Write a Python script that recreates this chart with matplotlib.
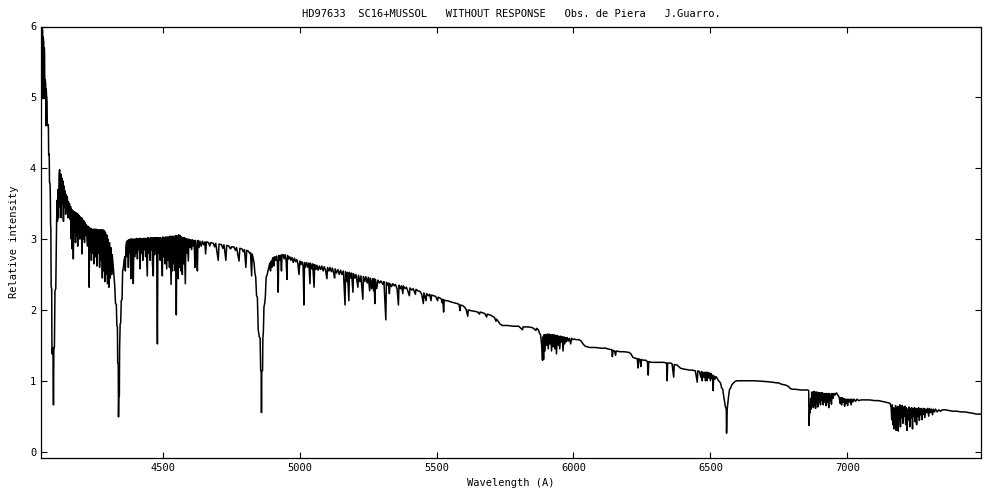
import numpy as np
import matplotlib
matplotlib.use('Agg')
import matplotlib.pyplot as plt

# (wavelength in A, relative intensity), blue to red
seg_blue = [(4057, 5.98), (4058, 6.0), (4059, 4.98), (4060, 5.97), (4062, 5.95), (4063, 5.0), (4064, 5.85),
            (4066, 5.78), (4067, 4.98), (4068, 5.7), (4069, 5.62), (4070, 5.05), (4071, 5.25), (4073, 5.2),
            (4074, 4.6), (4075, 5.12), (4077, 4.98), (4078, 4.95), (4079, 4.6), (4081, 4.62), (4083, 4.6),
            (4084, 4.18), (4086, 4.2), (4087, 3.8), (4089, 3.78), (4090, 3.62), (4091, 3.2), (4092, 3.15),
            (4093, 2.33), (4095, 2.3), (4096, 1.38), (4099, 1.47), (4100, 1.3), (4101.5, 0.66), (4103, 1.45),
            (4105, 1.48), (4107, 2.27), (4110, 2.3), (4112, 2.86), (4113, 3.25), (4115, 3.55), (4116, 3.25),
            (4118, 3.7), (4120, 3.3), (4122, 3.9)]

seg_4124 = [(4124, 3.98), (4126, 3.45), (4128, 3.92), (4130, 3.3), (4132, 3.86), (4134, 3.5), (4136, 3.82),
            (4138, 3.25), (4140, 3.75), (4142, 3.45), (4144, 3.68), (4146, 3.35), (4148, 3.63), (4150, 3.5),
            (4152, 3.6), (4154, 3.3), (4156, 3.53), (4158, 3.4), (4160, 3.5), (4162, 3.28), (4164, 3.46),
            (4166, 3.0), (4168, 3.42), (4170, 2.86), (4172, 3.4), (4174, 2.72), (4176, 3.39), (4178, 3.1),
            (4180, 3.38), (4182, 2.95), (4184, 3.37), (4186, 3.05), (4188, 3.36), (4190, 2.9), (4192, 3.35),
            (4194, 3.1), (4196, 3.33), (4198, 3.0), (4200, 3.31), (4202, 3.1), (4204, 3.3), (4205, 2.79),
            (4207, 3.28), (4210, 3.0), (4212, 3.26), (4215, 2.95), (4217, 3.23), (4220, 3.05), (4222, 3.2),
            (4225, 2.9), (4228, 3.18), (4230, 3.0), (4231, 3.17), (4232, 2.32), (4233, 3.16), (4236, 2.85),
            (4238, 3.15), (4240, 2.7), (4242, 3.14), (4245, 2.8), (4247, 3.14), (4250, 2.65), (4252, 3.14),
            (4255, 2.75), (4257, 3.14), (4260, 2.62), (4262, 3.13), (4265, 2.8), (4267, 3.13), (4270, 2.6),
            (4272, 3.13), (4275, 2.7), (4277, 3.13), (4280, 2.45), (4282, 3.13), (4285, 2.55), (4287, 3.12),
            (4289, 2.4), (4291, 3.1), (4294, 2.5), (4296, 3.06), (4299, 2.37), (4301, 3.0), (4304, 2.32),
            (4306, 2.95), (4309, 2.45), (4311, 2.88), (4314, 2.5), (4316, 2.78), (4319, 2.65), (4322, 2.5)]

seg_hgamma = [(4325, 2.35), (4328, 2.09), (4331, 2.08), (4333, 1.78), (4335, 1.76), (4336, 1.25), (4338, 1.24),
              (4339, 0.49), (4340, 0.77), (4342, 0.78), (4343, 1.45), (4345, 1.8), (4347, 1.82), (4349, 2.13),
              (4352, 2.15), (4354, 2.55), (4357, 2.6), (4359, 2.69), (4362, 2.75), (4364, 2.55), (4366, 2.9)]

seg_4369 = [(4369, 2.97), (4371, 2.75), (4373, 2.98), (4375, 2.6), (4377, 2.99), (4380, 2.8), (4382, 3.0),
            (4384, 2.44), (4386, 3.0), (4388, 2.7), (4390, 3.0), (4393, 2.37), (4395, 3.0), (4398, 2.75),
            (4400, 3.0), (4403, 2.8), (4405, 3.01), (4408, 2.72), (4410, 3.0), (4413, 2.85), (4415, 3.01),
            (4418, 2.58), (4420, 3.01), (4423, 2.8), (4425, 3.0), (4428, 2.7), (4430, 3.01), (4433, 2.85),
            (4435, 3.01), (4438, 2.75), (4440, 3.01), (4444, 2.48), (4446, 3.02), (4449, 2.8), (4451, 3.01),
            (4454, 2.7), (4456, 3.02), (4459, 2.85), (4461, 3.02), (4463, 2.65), (4466, 2.48), (4468, 3.02),
            (4471, 2.78), (4473, 3.02), (4476, 2.85), (4478, 3.02), (4481, 1.52), (4483, 3.02), (4486, 2.8),
            (4488, 3.02), (4491, 2.7), (4493, 3.02), (4496, 2.85), (4499, 2.48), (4501, 3.03), (4504, 2.75),
            (4506, 3.02), (4509, 2.65), (4511, 3.03), (4515, 2.58), (4517, 3.03), (4520, 2.7), (4522, 3.03),
            (4525, 2.6), (4527, 3.04), (4531, 2.36), (4533, 3.04), (4536, 2.55), (4538, 3.04), (4541, 2.65),
            (4543, 3.04), (4546, 2.55), (4548, 3.05), (4550, 1.93), (4552, 3.05), (4555, 2.5), (4557, 2.44),
            (4559, 3.06), (4562, 2.6), (4564, 3.05), (4567, 2.55), (4569, 3.03), (4572, 2.5), (4574, 3.02),
            (4577, 2.65), (4579, 3.02), (4583, 2.37), (4585, 3.01), (4588, 2.8), (4590, 3.0), (4594, 2.69),
            (4596, 3.0), (4600, 2.88), (4603, 2.99), (4606, 2.85), (4609, 2.99), (4613, 2.9), (4615, 2.98),
            (4618, 2.6), (4620, 2.98), (4624, 2.85), (4627, 2.55), (4629, 2.98), (4633, 2.88), (4636, 2.97),
            (4641, 2.9), (4645, 2.97), (4650, 2.92), (4654, 2.96), (4657, 2.79), (4660, 2.96)]

seg_4668 = [(4668, 2.95), (4672, 2.9), (4676, 2.95), (4685, 2.94), (4690, 2.89), (4694, 2.94), (4703, 2.7),
            (4706, 2.93), (4715, 2.92), (4720, 2.87), (4724, 2.92), (4731, 2.7), (4734, 2.91), (4742, 2.9),
            (4748, 2.86), (4752, 2.89), (4760, 2.89), (4766, 2.84), (4770, 2.88), (4779, 2.69), (4782, 2.87),
            (4790, 2.86), (4795, 2.82), (4799, 2.85), (4804, 2.6), (4807, 2.84), (4813, 2.83), (4818, 2.8),
            (4821, 2.81), (4825, 2.48), (4827, 2.79), (4830, 2.74), (4834, 2.66)]

seg_hbeta = [(4837, 2.52), (4840, 2.46), (4843, 2.2), (4846, 2.18), (4849, 1.72), (4853, 1.62), (4856, 1.6),
             (4858, 1.15), (4860, 1.12), (4861, 0.55), (4862, 1.12), (4865, 1.15), (4866, 1.6), (4868, 1.7),
             (4870, 2.04), (4873, 2.1), (4875, 2.18), (4878, 2.46), (4882, 2.5), (4885, 2.56), (4888, 2.6)]

seg_4891 = [(4891, 2.66), (4894, 2.55), (4896, 2.69), (4899, 2.6), (4901, 2.72), (4904, 2.74), (4907, 2.62),
            (4909, 2.75), (4913, 2.7), (4916, 2.76), (4919, 2.68), (4922, 2.25), (4924, 2.77), (4928, 2.7),
            (4931, 2.77), (4934, 2.55), (4936, 2.78), (4940, 2.78), (4944, 2.72), (4947, 2.78), (4951, 2.7),
            (4954, 2.43), (4956, 2.77), (4960, 2.72), (4964, 2.75), (4968, 2.7), (4972, 2.74), (4977, 2.67),
            (4981, 2.73), (4986, 2.68), (4990, 2.71), (4994, 2.65), (4998, 2.5), (5001, 2.69), (5005, 2.64),
            (5009, 2.68), (5013, 2.62), (5016, 2.07), (5018, 2.67), (5022, 2.6), (5026, 2.67), (5031, 2.6),
            (5034, 2.66), (5038, 2.37), (5040, 2.66), (5045, 2.58), (5048, 2.65), (5053, 2.32), (5055, 2.64),
            (5060, 2.57), (5063, 2.63), (5068, 2.56), (5072, 2.62), (5077, 2.57), (5081, 2.62), (5086, 2.55),
            (5090, 2.61), (5095, 2.56), (5100, 2.44), (5102, 2.6), (5107, 2.55), (5111, 2.6), (5116, 2.54),
            (5120, 2.59), (5124, 2.53), (5128, 2.45), (5130, 2.58), (5135, 2.52), (5140, 2.57), (5145, 2.5),
            (5150, 2.56), (5155, 2.5), (5160, 2.55), (5166, 2.07), (5168, 2.54), (5173, 2.4), (5175, 2.53),
            (5180, 2.13), (5182, 2.53), (5187, 2.45), (5190, 2.52), (5195, 2.25), (5197, 2.51), (5202, 2.45),
            (5206, 2.5), (5213, 2.32), (5215, 2.49), (5220, 2.4), (5224, 2.48), (5231, 2.15), (5233, 2.47),
            (5238, 2.4), (5242, 2.47), (5247, 2.38), (5251, 2.46), (5256, 2.27), (5258, 2.45), (5263, 2.3),
            (5266, 2.44), (5270, 2.27), (5272, 2.44), (5275, 2.09), (5277, 2.43), (5282, 2.3), (5286, 2.42),
            (5292, 2.38), (5297, 2.41), (5304, 2.36), (5308, 2.4)]

seg_5315 = [(5315, 1.86), (5317, 2.39), (5322, 2.35), (5325, 2.38), (5328, 2.23), (5330, 2.37), (5336, 2.33),
            (5340, 2.37), (5346, 2.34), (5350, 2.36), (5356, 2.3), (5361, 2.07), (5363, 2.35), (5368, 2.3),
            (5372, 2.34), (5377, 2.23), (5379, 2.34), (5385, 2.3), (5390, 2.32), (5395, 2.27), (5401, 2.2),
            (5403, 2.31), (5410, 2.28), (5415, 2.3), (5423, 2.22), (5425, 2.29), (5432, 2.27), (5440, 2.26),
            (5446, 2.22), (5452, 2.09), (5454, 2.24), (5462, 2.13), (5464, 2.23), (5471, 2.2), (5475, 2.22),
            (5480, 2.13), (5482, 2.21), (5490, 2.2), (5497, 2.19), (5504, 2.13), (5506, 2.18), (5512, 2.17),
            (5518, 2.15), (5521, 2.1), (5523, 2.15), (5526, 1.97), (5528, 2.14), (5534, 2.13), (5540, 2.13),
            (5547, 2.12), (5555, 2.11), (5565, 2.1), (5575, 2.09), (5582, 2.08), (5586, 1.99), (5588, 2.07),
            (5596, 2.06), (5602, 2.04), (5608, 2.01), (5614, 1.91), (5616, 2.0), (5625, 1.99), (5640, 1.98),
            (5650, 1.97), (5657, 1.94), (5659, 1.97), (5668, 1.96), (5676, 1.95), (5683, 1.9), (5685, 1.94),
            (5695, 1.93), (5705, 1.91), (5712, 1.89), (5717, 1.84), (5719, 1.87), (5725, 1.84), (5732, 1.8),
            (5740, 1.78), (5760, 1.78), (5780, 1.77), (5800, 1.77), (5814, 1.72), (5816, 1.76), (5835, 1.76),
            (5850, 1.75), (5863, 1.71), (5865, 1.74), (5872, 1.72), (5876, 1.67), (5880, 1.65), (5884, 1.5)]

seg_nad = [(5887, 1.29), (5889, 1.62), (5891, 1.3), (5893, 1.65), (5896, 1.42), (5899, 1.65), (5902, 1.5),
           (5905, 1.66), (5908, 1.45), (5911, 1.66), (5914, 1.52), (5917, 1.65), (5920, 1.42), (5923, 1.65),
           (5926, 1.48), (5929, 1.65), (5932, 1.45), (5935, 1.64), (5938, 1.38), (5941, 1.64), (5944, 1.5),
           (5947, 1.63), (5950, 1.45), (5953, 1.63), (5956, 1.55), (5959, 1.62), (5962, 1.42), (5965, 1.62),
           (5968, 1.52), (5971, 1.61), (5974, 1.55), (5977, 1.61), (5981, 1.56), (5985, 1.6), (5990, 1.52),
           (5993, 1.6), (5998, 1.58), (6003, 1.59), (6010, 1.58), (6020, 1.58), (6028, 1.56), (6035, 1.52)]

seg_6042 = [(6042, 1.49), (6050, 1.48), (6060, 1.47), (6080, 1.47), (6100, 1.46), (6118, 1.46), (6125, 1.45),
            (6136, 1.44), (6140, 1.44), (6142, 1.34), (6145, 1.43), (6150, 1.42), (6154, 1.36), (6156, 1.42),
            (6170, 1.41), (6185, 1.41), (6203, 1.4), (6210, 1.38), (6217, 1.33), (6225, 1.32), (6233, 1.31),
            (6236, 1.18), (6238, 1.31), (6243, 1.3), (6246, 1.2), (6248, 1.3), (6255, 1.29), (6264, 1.29),
            (6270, 1.27), (6273, 1.08), (6275, 1.27), (6285, 1.26), (6300, 1.26), (6312, 1.26), (6330, 1.26),
            (6340, 1.25), (6342, 1.0), (6344, 1.25), (6355, 1.25), (6360, 1.24), (6366, 1.05), (6368, 1.23),
            (6379, 1.22), (6390, 1.18), (6397, 1.17), (6410, 1.16), (6425, 1.15), (6434, 1.15), (6445, 1.14),
            (6452, 0.98), (6454, 1.14), (6460, 1.13), (6465, 1.05), (6468, 1.13), (6470, 1.0), (6473, 1.12),
            (6477, 1.05), (6480, 1.12), (6482, 1.0), (6485, 1.12), (6488, 1.0), (6490, 1.12), (6494, 1.04),
            (6497, 1.11), (6500, 1.0), (6503, 1.1), (6506, 1.03), (6508, 1.08), (6510, 0.86), (6512, 1.07),
            (6516, 1.02), (6520, 1.06), (6524, 1.04), (6530, 1.0)]

seg_halpha = [(6537, 0.97), (6541, 0.9), (6545, 0.88), (6549, 0.77), (6552, 0.7), (6555, 0.63), (6558, 0.6),
              (6559, 0.26), (6561, 0.59), (6564, 0.7), (6567, 0.8), (6570, 0.88), (6573, 0.89), (6578, 0.94),
              (6582, 0.96), (6590, 0.99), (6597, 1.0), (6628, 1.0), (6660, 1.0), (6700, 0.99), (6725, 0.98),
              (6743, 0.97), (6749, 0.97), (6760, 0.95), (6774, 0.94), (6785, 0.92), (6792, 0.89), (6800, 0.88),
              (6810, 0.88), (6830, 0.87), (6856, 0.87), (6859, 0.86)]

seg_bband = [(6860, 0.37), (6862, 0.56), (6864, 0.55), (6866, 0.75), (6868, 0.6), (6870, 0.84), (6872, 0.65),
             (6874, 0.84), (6876, 0.62), (6878, 0.85), (6880, 0.66), (6882, 0.84), (6884, 0.61), (6886, 0.84),
             (6888, 0.68), (6890, 0.84), (6892, 0.63), (6894, 0.83), (6897, 0.7), (6899, 0.83), (6902, 0.66),
             (6904, 0.83), (6907, 0.72), (6909, 0.83), (6912, 0.66), (6914, 0.82), (6917, 0.7), (6919, 0.82),
             (6922, 0.65), (6924, 0.82), (6927, 0.7), (6929, 0.82), (6932, 0.62), (6934, 0.82), (6937, 0.72),
             (6939, 0.81), (6942, 0.67), (6944, 0.82), (6948, 0.75), (6951, 0.82), (6955, 0.8), (6960, 0.83),
             (6965, 0.8), (6970, 0.77), (6974, 0.68), (6976, 0.76), (6979, 0.66), (6981, 0.76), (6984, 0.7),
             (6987, 0.75), (6990, 0.64), (6992, 0.74), (6995, 0.68), (6998, 0.74), (7001, 0.65), (7003, 0.74),
             (7007, 0.7), (7010, 0.74), (7014, 0.66), (7016, 0.74), (7020, 0.7), (7024, 0.74), (7030, 0.71),
             (7035, 0.74), (7042, 0.72), (7050, 0.73), (7065, 0.73), (7080, 0.73), (7100, 0.72), (7114, 0.72),
             (7125, 0.71), (7138, 0.7), (7148, 0.69), (7156, 0.68)]

seg_water = [(7160, 0.62), (7162, 0.45), (7164, 0.66), (7166, 0.38), (7168, 0.62), (7170, 0.32), (7172, 0.6),
             (7174, 0.42), (7176, 0.65), (7178, 0.3), (7180, 0.62), (7182, 0.4), (7184, 0.64), (7186, 0.29),
             (7188, 0.6), (7190, 0.45), (7192, 0.66), (7194, 0.35), (7196, 0.62), (7198, 0.48), (7200, 0.65),
             (7203, 0.4), (7205, 0.63), (7208, 0.5), (7210, 0.64), (7213, 0.38), (7215, 0.62), (7218, 0.3),
             (7220, 0.6), (7223, 0.45), (7225, 0.63), (7228, 0.35), (7230, 0.61), (7233, 0.48), (7235, 0.62),
             (7238, 0.32), (7240, 0.6), (7243, 0.5), (7245, 0.62), (7248, 0.42), (7250, 0.61), (7253, 0.38),
             (7255, 0.6), (7258, 0.5), (7260, 0.62), (7263, 0.44), (7265, 0.6), (7268, 0.52), (7270, 0.61),
             (7273, 0.45), (7275, 0.6), (7278, 0.53), (7280, 0.61), (7283, 0.48), (7286, 0.6), (7290, 0.55),
             (7293, 0.61), (7297, 0.5), (7300, 0.61), (7304, 0.55), (7307, 0.6), (7311, 0.52), (7314, 0.6),
             (7318, 0.56), (7322, 0.6), (7328, 0.56), (7334, 0.59), (7340, 0.57), (7347, 0.59), (7357, 0.59),
             (7370, 0.58), (7385, 0.57), (7400, 0.57), (7415, 0.56), (7429, 0.56), (7445, 0.55), (7460, 0.54),
             (7470, 0.53), (7478, 0.53), (7486, 0.53)]

segments = [seg_blue, seg_4124, seg_hgamma, seg_4369, seg_4668, seg_hbeta, seg_4891, seg_5315,
            seg_nad, seg_6042, seg_halpha, seg_bband, seg_water]

x_ticks = [4500, 5000, 5500, 6000, 6500, 7000]
y_ticks = [0, 1, 2, 3, 4, 5, 6]

title = 'HD97633  SC16+MUSSOL   WITHOUT RESPONSE   Obs. de Piera   J.Guarro.'

data = np.array([p for seg in segments for p in seg])
wave = data[:, 0]
flux = data[:, 1]

plt.rcParams['font.family'] = ['DejaVu Sans Mono']
fig = plt.figure(figsize=(10, 5), dpi=100)
ax = fig.add_axes([0.041, 0.084, 0.94, 0.863])
ax.plot(wave, flux, color='black', linewidth=1.1)

ax.set_xlim(4056, 7488)
ax.set_ylim(-0.09, 6.0)
ax.set_xticks(x_ticks)
ax.set_yticks(y_ticks)
ax.tick_params(direction='in', length=4, width=0.8, labelsize=7.5, top=True, right=True)
for s in ax.spines.values():
    s.set_linewidth(0.9)

ax.set_xlabel('Wavelength (A)', fontsize=7.5, labelpad=4)
ax.set_ylabel('Relative intensity', fontsize=7.5, labelpad=8)
ax.set_title(title, fontsize=7.5, pad=7)

fig.savefig('out.png', dpi=100)
